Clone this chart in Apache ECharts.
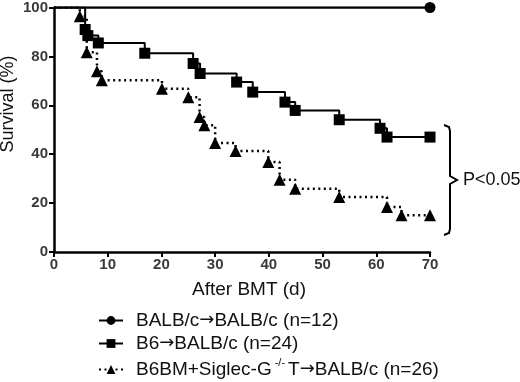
<!DOCTYPE html>
<html>
<head>
<meta charset="utf-8">
<script src="https://cdn.jsdelivr.net/npm/echarts@6/dist/echarts.min.js"></script>
<style>
  html, body { margin: 0; padding: 0; background: #fff; }
  #chart { width: 520px; height: 382px; }
</style>
</head>
<body>
<div id="chart"></div>
<script>
// ---- data (days after BMT, survival %) ----
var seriesNames = [
  'BALB/c\u2192BALB/c (n=12)',
  'B6\u2192BALB/c (n=24)',
  'B6BM+Siglec-G-/-T\u2192BALB/c (n=26)'
];
var xTicks = [0, 10, 20, 30, 40, 50, 60, 70];
var yTicks = [0, 20, 40, 60, 80, 100];

var balbDays = [0, 70];
var balbSurv = [100, 100];

var b6Days = [0, 5.8, 6.3, 8.25, 16.9, 25.9, 27.2, 34.0, 37.0, 43.0, 44.9, 53.1, 60.7, 62.0, 70];
var b6Surv = [100, 91.0, 88.5, 85.5, 81.3, 77.1, 73.0, 69.5, 65.4, 61.3, 57.9, 54.1, 50.6, 47.0, 47.0];

var sigDays = [0, 4.8, 6.1, 8.0, 8.9, 20.1, 25.0, 27.1, 28.0, 30.0, 33.8, 39.9, 42.0, 44.9, 53.1, 62.0, 64.7, 70];
var sigSurv = [100, 96.4, 81.7, 73.9, 70.2, 66.8, 63.3, 55.2, 51.8, 44.6, 41.3, 36.8, 29.6, 25.9, 22.5, 18.4, 15.0, 15.0];

function build(days, vals, onlyLast) {
  return days.map(function (d, i) {
    var item = { value: [d, vals[i]] };
    if (i === 0 || (onlyLast && i !== days.length - 1)) item.symbol = 'none';
    return item;
  });
}

var chart = echarts.init(document.getElementById('chart'), null, { renderer: 'canvas' });
var FONT = '"Liberation Sans", Arial, sans-serif';
var ARROWFONT = '"DejaVu Sans", sans-serif';

function richLabel(name) {
  var parts;
  if (name === seriesNames[2]) {
    return '{a|B6BM+Siglec-G}{s|-/-}{a|T}{r|\u2192}{a|BALB/c (n=26)}';
  }
  parts = name.split('\u2192');
  return '{a|' + parts[0] + '}{r|\u2192}{a|' + parts[1] + '}';
}

var option = {
  animation: false,
  backgroundColor: '#ffffff',
  textStyle: { fontFamily: FONT },
  grid: { left: 54, right: 90, top: 7, bottom: 130, containLabel: false },
  xAxis: {
    type: 'value', min: xTicks[0], max: xTicks[xTicks.length - 1], interval: 10,
    name: 'After BMT (d)', nameLocation: 'middle', nameGap: 28,
    nameTextStyle: { fontSize: 19, color: '#111', fontFamily: FONT, padding: [0, 0, 0, 14] },
    axisLine: { lineStyle: { color: '#000', width: 2.5 } },
    axisTick: { length: 5, lineStyle: { color: '#000', width: 2 } },
    axisLabel: { fontSize: 15, fontWeight: 'bold', color: '#3a3a3a', margin: 5, fontFamily: FONT },
    splitLine: { show: false }
  },
  yAxis: {
    type: 'value', min: yTicks[0], max: yTicks[yTicks.length - 1], interval: 20,
    axisLine: { show: true, lineStyle: { color: '#000', width: 2.5 } },
    axisTick: { show: true, length: 5, lineStyle: { color: '#000', width: 2 } },
    axisLabel: { fontSize: 15, fontWeight: 'bold', color: '#3a3a3a', margin: 6, fontFamily: FONT },
    splitLine: { show: false }
  },
  legend: {
    orient: 'vertical', left: 98, top: 311, height: 80, padding: 0,
    itemWidth: 24, itemHeight: 11, itemGap: 4,
    data: seriesNames,
    formatter: richLabel,
    textStyle: {
      fontSize: 19, color: '#111', fontFamily: FONT, padding: [0, 0, 0, 8],
      rich: {
        a: { fontSize: 19, color: '#111', fontFamily: FONT, lineHeight: 20 },
        r: { fontSize: 18, color: '#111', fontFamily: ARROWFONT, lineHeight: 20 },
        s: { fontSize: 11, color: '#111', fontFamily: FONT, lineHeight: 6, padding: [0, 3, 14, 3] }
      }
    }
  },
  graphic: [
    { type: 'text', x: 8, y: 104, rotation: Math.PI / 2,
      style: { text: 'Survival (%)', fontSize: 18, fill: '#111', fontFamily: FONT,
               textAlign: 'center', textVerticalAlign: 'middle' } },
    { type: 'polyline', shape: { points: [[444, 125], [449, 127], [450, 131], [450, 176], [457, 180], [450, 184], [450, 229], [449, 233], [444, 235]] },
      style: { stroke: '#000', lineWidth: 2, fill: null } },
    { type: 'text', x: 463, y: 180,
      style: { text: 'P<0.05', fontSize: 18, fill: '#111', fontFamily: FONT, textVerticalAlign: 'middle' } }
  ],
  series: [
    {
      name: seriesNames[0], type: 'line', step: 'end',
      data: build(balbDays, balbSurv, true),
      symbol: 'circle', symbolSize: 11,
      lineStyle: { color: '#000', width: 2.5 },
      itemStyle: { color: '#000' }, z: 3
    },
    {
      name: seriesNames[1], type: 'line', step: 'end',
      data: build(b6Days, b6Surv, false),
      symbol: 'rect', symbolSize: 11,
      lineStyle: { color: '#000', width: 2 },
      itemStyle: { color: '#000' }, z: 2
    },
    {
      name: seriesNames[2], type: 'line', step: 'end',
      data: build(sigDays, sigSurv, false),
      symbol: 'triangle', symbolSize: 12,
      lineStyle: { color: '#000', width: 2.5, type: [2, 3.5] },
      itemStyle: { color: '#000' }, z: 2
    }
  ]
};
chart.setOption(option);
</script>
</body>
</html>
